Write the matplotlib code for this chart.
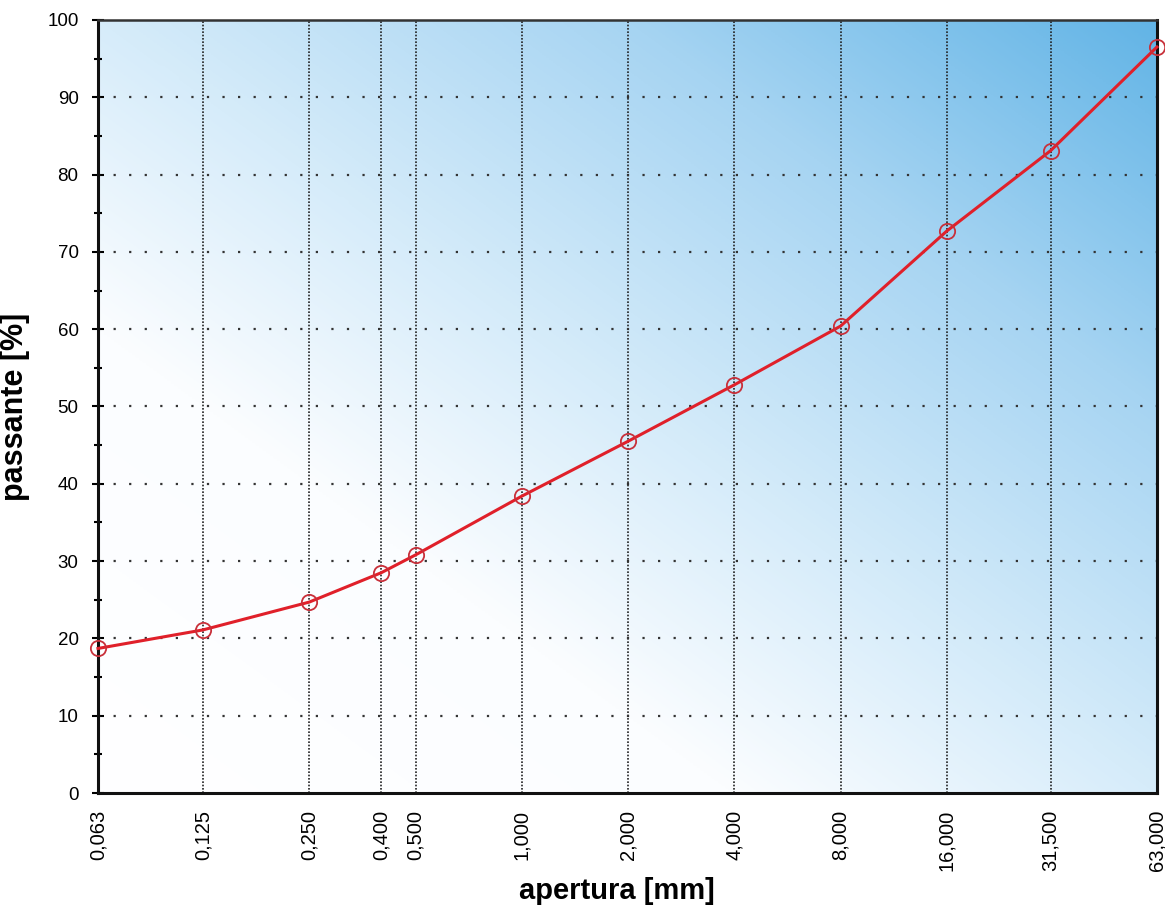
import numpy as np
import matplotlib.pyplot as plt
from matplotlib.colors import LinearSegmentedColormap
from matplotlib.ticker import FixedLocator, MultipleLocator

plt.rcParams['font.family'] = ['Liberation Sans', 'DejaVu Sans']

# sieve apertures [mm] and passing [%]
apertura = [0.063, 0.125, 0.250, 0.400, 0.500, 1.000, 2.000, 4.000, 8.000, 16.000, 31.500, 63.000]
passante = [18.7, 21.1, 24.7, 28.5, 30.8, 38.4, 45.5, 52.8, 60.4, 72.7, 83.1, 96.5]
tick_labels = ['0,063', '0,125', '0,250', '0,400', '0,500', '1,000', '2,000',
               '4,000', '8,000', '16,000', '31,500', '63,000']

fig = plt.figure(figsize=(11.65, 9.06), dpi=100)
ax = fig.add_axes([0.0841, 0.1247, 0.9090, 0.8533])

# diagonal background gradient (white bottom-left -> blue top-right)
xx, yy = np.meshgrid(np.linspace(0, 1, 300), np.linspace(0, 1, 300))
t = (xx + yy) / 2
cmap = LinearSegmentedColormap.from_list(
    'bg', [(0.0, '#ffffff'), (0.3, '#fbfdff'), (0.5, '#d6ecfa'),
           (0.75, '#a6d4f2'), (1.0, '#62b4e6')])
ax.imshow(t, cmap=cmap, origin='lower', extent=[0, 1, 0, 1], transform=ax.transAxes,
          aspect='auto', zorder=0, interpolation='bilinear')

ax.set_xscale('log')
ax.set_xlim(0.063, 63)
ax.set_ylim(0, 100)

ax.plot(apertura, passante, color='#e0202a', lw=2.2, marker='o', ms=11,
        mfc='none', mec='#c8303a', mew=1.3, zorder=5, clip_on=False)

ax.xaxis.set_major_locator(FixedLocator(apertura))
ax.xaxis.set_minor_locator(FixedLocator([]))
ax.set_xticklabels(tick_labels, rotation=90, fontsize=14.5)
ax.tick_params(axis='x', length=0, pad=12)

ax.yaxis.set_major_locator(MultipleLocator(10))
ax.yaxis.set_minor_locator(MultipleLocator(5))
ax.tick_params(axis='y', which='major', direction='inout', length=8, width=1.5,
               labelsize=13.5, pad=10)
ax.tick_params(axis='y', which='minor', direction='inout', length=6, width=1.5)

# grid
for x in apertura:
    ax.axvline(x, color='#222222', lw=1.2, ls=(0, (1, 1)), zorder=2)
for y in range(10, 100, 10):
    ax.axhline(y, color='#333333', lw=1.6, ls=(0, (1, 6)), zorder=2)

for side in ['left', 'bottom', 'right']:
    ax.spines[side].set_linewidth(2.2)
    ax.spines[side].set_color('#111111')
ax.spines['top'].set_linewidth(1.8)
ax.spines['top'].set_color('#333333')

ax.set_ylabel('passante [%]', fontsize=22, fontweight='bold', labelpad=12)
ax.set_xlabel('apertura [mm]', fontsize=21, fontweight='bold')
ax.xaxis.set_label_coords(0.49, -0.108)

fig.savefig('out.png', dpi=100)
